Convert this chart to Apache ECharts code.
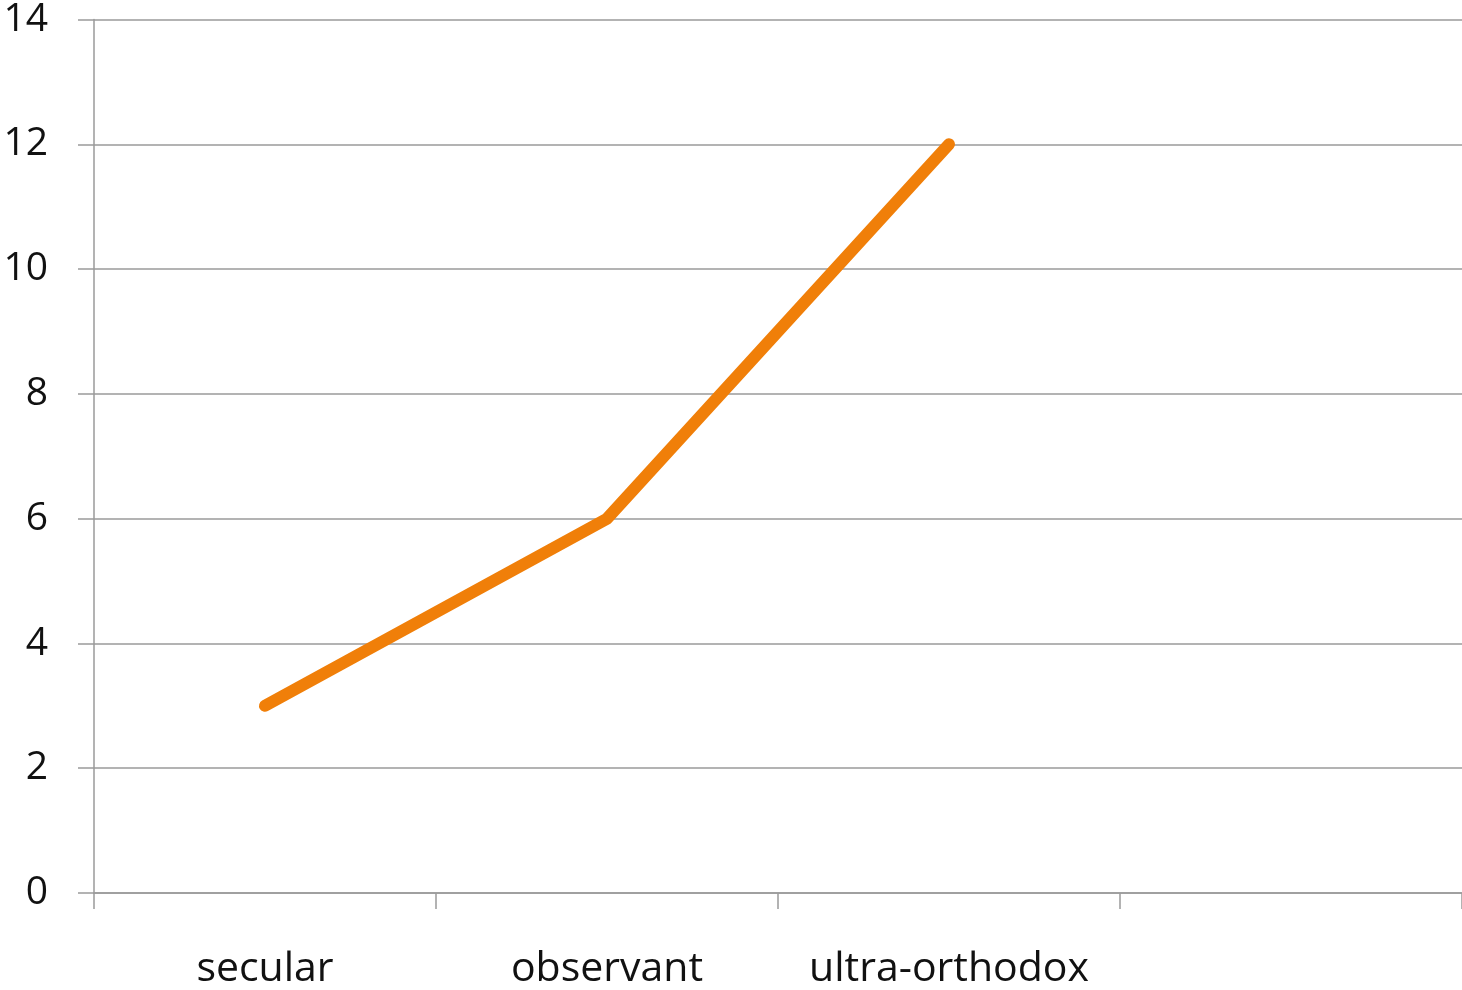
<!DOCTYPE html>
<html><head><meta charset="utf-8">
<script src="https://cdn.jsdelivr.net/npm/echarts@6/dist/echarts.min.js"></script>
<style>html,body{margin:0;padding:0;background:#fff}#c{width:1462px;height:990px}</style>
</head><body><div id="c"></div>
<script>
const categories = ['secular', 'observant', 'ultra-orthodox', ''];
const values = [3, 6, 12, null];
const yMin = 0, yMax = 14, yStep = 2;

const chart = echarts.init(document.getElementById('c'), null, {renderer: 'canvas'});
const grey = '#9a9a9a';
chart.setOption({
  animation: false,
  backgroundColor: '#fff',
  grid: {left: 94, right: 0, top: 18, bottom: 96, containLabel: false},
  xAxis: {
    type: 'category', data: categories, boundaryGap: true,
    axisLine: {lineStyle: {color: grey, width: 1.5}},
    axisTick: {show: true, length: 16, alignWithLabel: false, lineStyle: {color: grey, width: 1.5}},
    axisLabel: {margin: 56, color: '#111', fontSize: 41, fontFamily: 'Open Sans', interval: 0}
  },
  yAxis: {
    type: 'value', min: yMin, max: yMax, interval: yStep,
    axisLine: {show: true, lineStyle: {color: grey, width: 1.5}},
    axisTick: {show: true, length: 16, lineStyle: {color: grey, width: 1.5}},
    splitLine: {lineStyle: {color: grey, width: 1.5}},
    axisLabel: {margin: 46, color: '#111', fontSize: 39, fontFamily: 'Open Sans'}
  },
  series: [{
    type: 'line', data: values, symbol: 'none',
    lineStyle: {color: '#f07f09', width: 12, cap: 'round', join: 'round'}
  }]
});
</script></body></html>
